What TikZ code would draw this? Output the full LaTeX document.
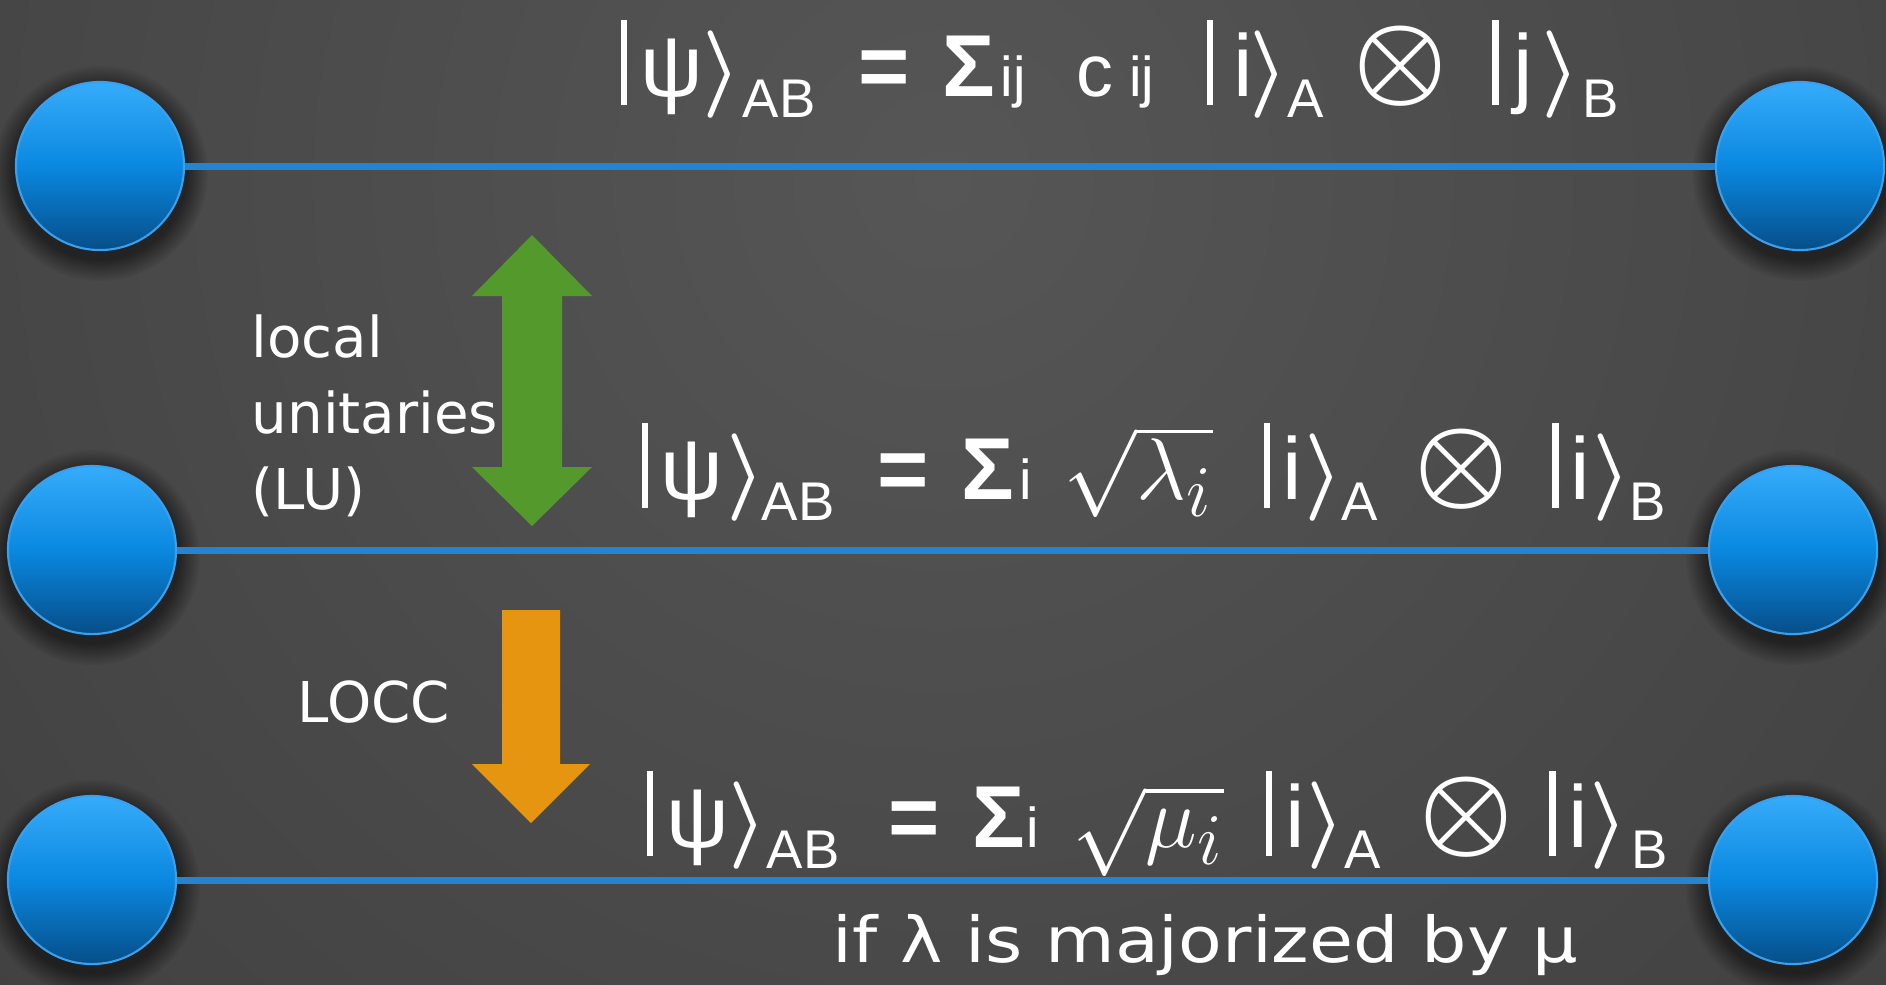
\documentclass[tikz,border=0pt]{standalone}
\usepackage{amsmath,amssymb}
\usepackage{fontspec}
\usepackage{graphicx}
\usetikzlibrary{fadings}
\setmainfont{Liberation Sans}
\newfontfamily\dv{DejaVu Sans}
\definecolor{bgin}{RGB}{86,86,86}
\definecolor{bgout}{RGB}{46,46,46}
\definecolor{balltop}{RGB}{54,172,250}
\definecolor{ballmid}{RGB}{10,136,224}
\definecolor{ballbot}{RGB}{6,78,136}
\definecolor{ballrim}{RGB}{58,160,238}
\definecolor{wire}{RGB}{38,132,206}
\definecolor{lugreen}{RGB}{84,153,43}
\definecolor{loccorange}{RGB}{229,149,15}
\newcommand\pc[2]{\makebox[0pt][l]{\hspace*{#1}#2}}
\newcommand\kb{\rule[-2.6pt]{1.8pt}{24.2pt}}
\newcommand\ra{$\boldsymbol\rangle$}
\newcommand\sbx[1]{\raisebox{-6pt}{\fontsize{15.5}{18}\selectfont #1}}
\newcommand\smf{\fontsize{16}{19}\selectfont}
\newcommand\ot{\raisebox{1pt}{\scalebox{1.2}{$\boldsymbol\otimes$}}}
\newcommand\rt[1]{{\fontsize{28}{34}\selectfont$\sqrt{#1}$}}
\tikzset{
  ball/.style={circle, minimum size=1.68cm, inner sep=0pt, draw=ballrim, line width=0.6pt,
    top color=balltop, bottom color=ballbot, middle color=ballmid},
  ballshadow/.style={fill=black, opacity=0.5, path fading=circle with fuzzy edge 20 percent},
  wireline/.style={draw=wire, line width=0.07cm},
  eq/.style={text=white, inner sep=0pt, anchor=base west, font=\fontsize{25}{30}\selectfont},
  lbl/.style={text=white, inner sep=0pt, anchor=base west, font=\dv\fontsize{16}{19}\selectfont},
}
\begin{document}
\begin{tikzpicture}[x=0.01cm,y=-0.01cm]
\useasboundingbox (0,0) rectangle (1886,984);
\begin{scope}
  \clip (0,0) rectangle (1886,984);
  \shade[inner color=bgin, outer color=bgout] (943,180) circle (24cm);
\end{scope}
% ball positions
\coordinate (pa1) at (100,166);
\coordinate (pb1) at (1800,166);
\coordinate (pa2) at (92,550);
\coordinate (pb2) at (1793,550);
\coordinate (pa3) at (92,880);
\coordinate (pb3) at (1793,880);
\foreach \p in {pa1,pb1,pa2,pb2,pa3,pb3}
  \fill[ballshadow] ([yshift=-2pt]\p) circle (1.08cm);
% balls
\node[ball] (a1) at (pa1) {};
\node[ball] (b1) at (pb1) {};
\node[ball] (a2) at (pa2) {};
\node[ball] (b2) at (pb2) {};
\node[ball] (a3) at (pa3) {};
\node[ball] (b3) at (pb3) {};
\draw[wireline] (a1) -- (b1);
\draw[wireline] (a2) -- (b2);
\draw[wireline] (a3) -- (b3);
% arrows
\fill[lugreen] (532,235) -- (592,296) -- (562,296) -- (562,467) -- (592,467) -- (532,526)
  -- (472,467) -- (502,467) -- (502,296) -- (472,296) -- cycle;
\fill[loccorange] (502,610) -- (560,610) -- (560,764) -- (590,764) -- (531,823)
  -- (472,764) -- (502,764) -- cycle;
% labels
\node[lbl] (lu1) at (251,357) {local};
\node[lbl] (lu2) at (251,433) {unitaries};
\node[lbl] (lu3) at (251,509) {(LU)};
\node[lbl] (locc) at (297,722) {LOCC};
\node[lbl] (maj) at (832,962) {\fontsize{18}{21}\selectfont\scalebox{1.13}[1]{if λ is majorized by μ}};
% equations
\node[eq] (eq1) at (620,96) {\pc{0cm}{\kb}\pc{0.20cm}{ψ}\pc{0.82cm}{\ra}\pc{1.22cm}{\sbx{AB}}%
\pc{2.38cm}{\bfseries =}\pc{3.22cm}{\bfseries Σ}\pc{3.80cm}{\smf ij}%
\pc{4.56cm}{\fontsize{21}{24}\selectfont c}\pc{5.08cm}{\smf ij}%
\pc{5.86cm}{\kb}\pc{6.12cm}{i}\pc{6.28cm}{\ra}\pc{6.66cm}{\sbx{A}}\pc{7.32cm}{\ot}%
\pc{8.71cm}{\kb}\pc{8.92cm}{j}\pc{9.20cm}{\ra}\pc{9.61cm}{\sbx{B}}\hspace*{9.98cm}};
\node[eq] (eq2) at (641,499) {\pc{0cm}{\kb}\pc{0.19cm}{ψ}\pc{0.85cm}{\ra}\pc{1.20cm}{\sbx{AB}}%
\pc{2.36cm}{\bfseries =}\pc{3.20cm}{\bfseries Σ}\pc{3.78cm}{\smf i}%
\pc{4.22cm}{\rt{\lambda_i}}%
\pc{6.22cm}{\kb}\pc{6.40cm}{i}\pc{6.62cm}{\ra}\pc{6.99cm}{\sbx{A}}\pc{7.72cm}{\ot}%
\pc{9.10cm}{\kb}\pc{9.28cm}{i}\pc{9.50cm}{\ra}\pc{9.87cm}{\sbx{B}}\hspace*{10.22cm}};
\node[eq] (eq3) at (646,847) {\pc{0cm}{\kb}\pc{0.20cm}{ψ}\pc{0.82cm}{\ra}\pc{1.20cm}{\sbx{AB}}%
\pc{2.42cm}{\bfseries =}\pc{3.26cm}{\bfseries Σ}\pc{3.80cm}{\smf i}%
\pc{4.26cm}{\rt{\mu_i}}%
\pc{6.19cm}{\kb}\pc{6.38cm}{i}\pc{6.59cm}{\ra}\pc{6.97cm}{\sbx{A}}\pc{7.72cm}{\ot}%
\pc{9.02cm}{\kb}\pc{9.21cm}{i}\pc{9.42cm}{\ra}\pc{9.84cm}{\sbx{B}}\hspace*{10.24cm}};
\end{tikzpicture}
\end{document}
